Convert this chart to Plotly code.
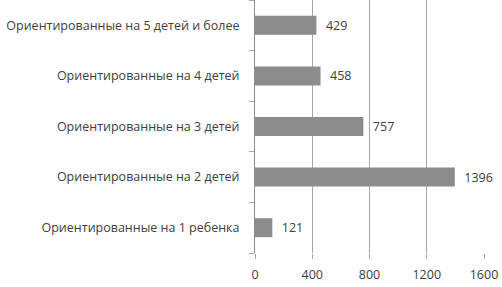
import plotly.graph_objects as go

categories = [
    "Ориентированные на 1 ребенка",
    "Ориентированные на 2 детей",
    "Ориентированные на 3 детей",
    "Ориентированные на 4 детей",
    "Ориентированные на 5 детей и более",
]
values = [121, 1396, 757, 458, 429]
x_ticks = [0, 400, 800, 1200, 1600]

fig = go.Figure(go.Bar(
    x=values, y=categories, orientation="h",
    marker=dict(color="#8c8c8c", line=dict(width=0)),
    width=0.375,
    text=values, texttemplate="\u00a0\u00a0%{x}", textposition="outside",
    textfont=dict(family="Open Sans", size=12.5, color="#404040"),
    cliponaxis=False,
))

fig.update_layout(
    width=502, height=287,
    margin=dict(l=255, r=18, t=0, b=34, autoexpand=False),
    plot_bgcolor="white", paper_bgcolor="white",
    showlegend=False,
    font=dict(family="Open Sans", size=12.5, color="#404040"),
)
fig.update_xaxes(
    range=[0, 1600], tickvals=x_ticks, ticktext=[str(v) for v in x_ticks],
    showgrid=True, gridcolor="#a6a6a6", gridwidth=1,
    showline=False, ticks="outside", ticklen=5, tickcolor="#a6a6a6",
    zeroline=False, tickfont=dict(size=12.5, color="#404040"),
    ticklabelstandoff=5, automargin=False,
)
fig.update_yaxes(
    showline=True, linecolor="#8c8c8c", linewidth=1,
    ticks="outside", ticklen=5, tickcolor="#a6a6a6", tickson="boundaries",
    showgrid=False, tickfont=dict(size=12.5, color="#404040"),
    ticklabelstandoff=12, automargin=False,
)
fig.write_html(
    "out.html",
    config={"displayModeBar": False},
    post_script="document.body.style.margin='0';document.body.style.padding='0';",
)
